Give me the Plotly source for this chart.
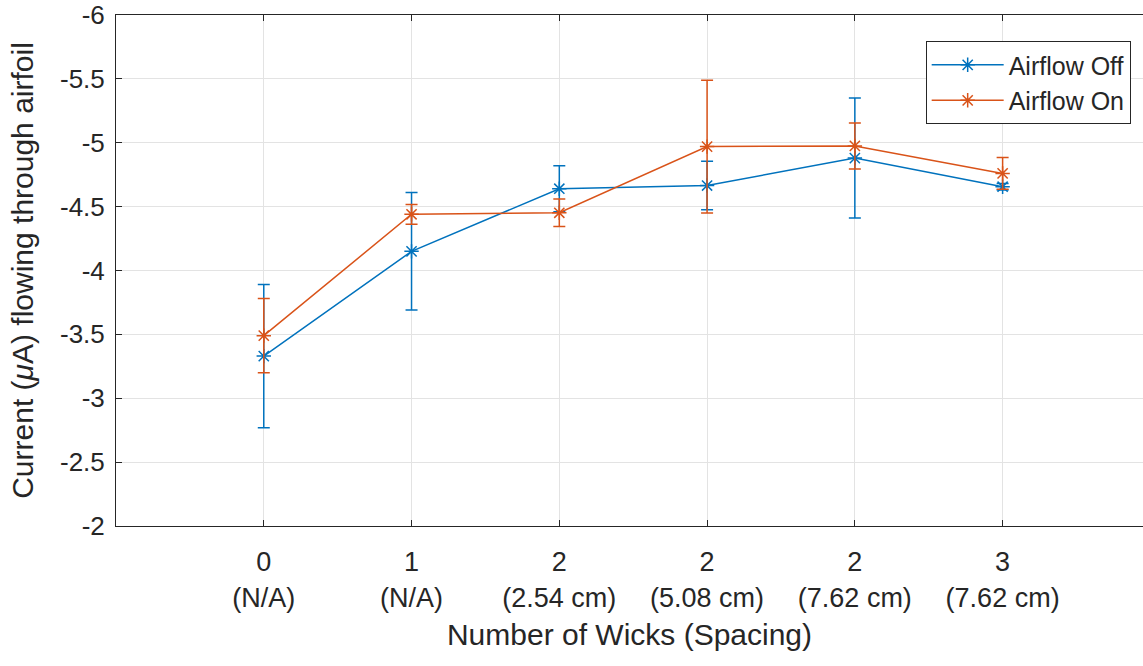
import plotly.graph_objects as go

categories = ["0<br>(N/A)", "1<br>(N/A)", "2<br>(2.54 cm)", "2<br>(5.08 cm)",
              "2<br>(7.62 cm)", "3<br>(7.62 cm)"]
off_vals = [-3.33, -4.15, -4.64, -4.665, -4.88, -4.656]
off_err = [0.56, 0.46, 0.18, 0.19, 0.47, 0.025]
on_vals = [-3.49, -4.44, -4.452, -4.97, -4.975, -4.76]
on_err = [0.29, 0.077, 0.107, 0.52, 0.18, 0.124]
y_ticks = [-6, -5.5, -5, -4.5, -4, -3.5, -3, -2.5, -2]
y_ticktext = ["-6", "-5.5", "-5", "-4.5", "-4", "-3.5", "-3", "-2.5", "-2"]

x = list(range(len(categories)))
BLUE = "#0072BD"
ORANGE = "#D95319"
FONT = "Liberation Sans, Arial, Helvetica, sans-serif"

fig = go.Figure()
for name, vals, errs, col in [("Airflow Off", off_vals, off_err, BLUE),
                              ("Airflow On", on_vals, on_err, ORANGE)]:
    fig.add_trace(go.Scatter(
        x=x, y=vals, name=name, mode="lines+markers",
        line=dict(color=col, width=1.5),
        marker=dict(symbol="asterisk-open", size=12, color=col,
                    line=dict(color=col, width=1.5)),
        error_y=dict(type="data", array=errs, visible=True, color=col,
                     thickness=1.5, width=6),
    ))

fig.update_layout(
    width=1143, height=666,
    margin=dict(l=116, r=0, t=15, b=140),
    plot_bgcolor="white", paper_bgcolor="white",
    font=dict(family=FONT, size=27, color="#262626"),
    legend=dict(x=0.988, y=0.949, xanchor="right", yanchor="top",
                bgcolor="white", bordercolor="#262626", borderwidth=1,
                font=dict(size=25, color="#262626"),
                itemwidth=72, tracegroupgap=0),
    showlegend=True,
)
fig.update_xaxes(
    range=[-1, 5.95], tickvals=x, ticktext=categories, automargin=False,
    showgrid=True, gridcolor="#e3e3e3", gridwidth=1,
    showline=True, linecolor="#262626", linewidth=1, mirror="ticks",
    ticks="inside", ticklen=6, tickcolor="#262626", zeroline=False,
    tickfont=dict(size=27), ticklabelstandoff=12, ticklabeloverflow="allow",
    title=dict(text="Number of Wicks (Spacing)", font=dict(size=30), standoff=12),
)
fig.update_yaxes(
    range=[-2, -6], tickvals=y_ticks, ticktext=y_ticktext, automargin=False,
    showgrid=True, gridcolor="#e3e3e3", gridwidth=1,
    showline=True, linecolor="#262626", linewidth=1, mirror=False,
    ticks="inside", ticklen=6, tickcolor="#262626", zeroline=False,
    tickfont=dict(size=26), ticklabelstandoff=5, ticklabeloverflow="allow",
    title=dict(text="Current (<i>μ</i>A) flowing through airfoil",
               font=dict(size=30), standoff=17),
)

# remove the browser's default 8px body margin so the figure sits at the page origin
fig.write_html(
    "out.html",
    config={"displayModeBar": False},
    post_script="document.body.style.margin='0';document.body.style.overflow='hidden';",
)
